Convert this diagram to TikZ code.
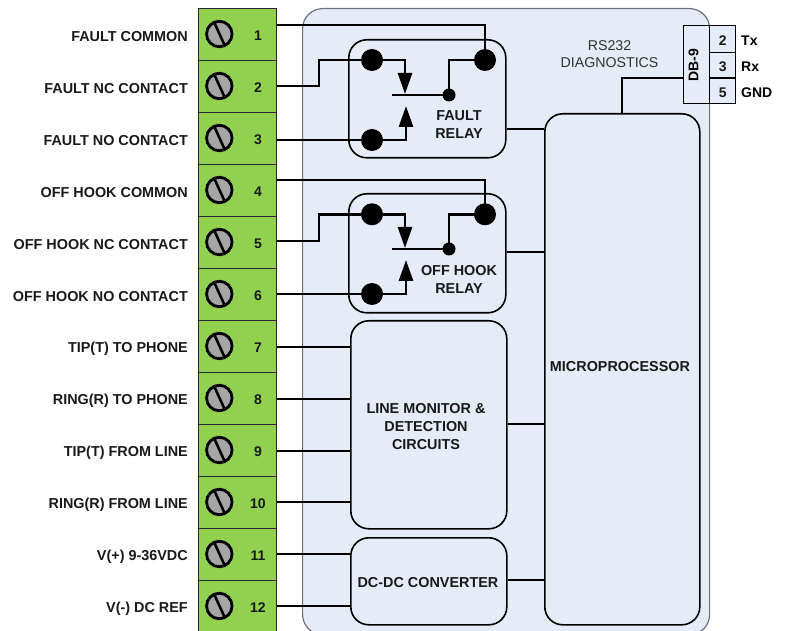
\documentclass[tikz,border=0pt]{standalone}
\usepackage{fontspec}
\setmainfont{Liberation Sans}
\usetikzlibrary{arrows.meta}
\definecolor{stripgreen}{RGB}{146,208,80}
\definecolor{panelblue}{RGB}{230,236,247}
\definecolor{screwgray}{RGB}{166,166,166}
\definecolor{panelline}{RGB}{110,115,125}
\definecolor{softtext}{RGB}{50,50,50}
\tikzset{
  x=1pt,y=-1pt,
  cell/.style={draw=black!85,line width=0.9pt,fill=stripgreen,minimum width=78pt,minimum height=52pt,inner sep=0pt,anchor=north west},
  screw/.style={circle,draw=black,line width=2.8pt,fill=screwgray,minimum size=25.5pt,inner sep=0pt},
  slot/.style={line width=2.6pt,black},
  pinnum/.style={font=\fontsize{14pt}{16pt}\selectfont\bfseries,text=black!90,inner sep=0pt},
  sidelabel/.style={font=\fontsize{14.4pt}{16pt}\selectfont\bfseries,anchor=east,inner sep=0pt,text=black!90},
  block/.style={draw=black,line width=1.6pt,rounded corners=18pt,inner sep=0pt,anchor=north west},
  blocktext/.style={font=\fontsize{14.4pt}{18pt}\selectfont\bfseries,align=center,inner sep=0pt,text=black!90},
  wire/.style={line width=2.8pt,black},
  thinwire/.style={line width=2pt,black},
  bigdot/.style={circle,fill=black,minimum size=22pt,inner sep=0pt},
  smalldot/.style={circle,fill=black,minimum size=13pt,inner sep=0pt},
  contact/.style={line width=2.8pt,black,-{Triangle[length=21pt,width=14pt]}},
  dbcell/.style={draw=black,line width=1.4pt,fill=panelblue,inner sep=0pt,anchor=north west},
}
\begin{document}
\begin{tikzpicture}
\useasboundingbox (0,0) rectangle (788,631);
\clip (0,0) rectangle (788,631);
% outer panel
\node[draw=panelline,line width=1.2pt,fill=panelblue,rounded corners=20pt,minimum width=407pt,minimum height=626pt,inner sep=0pt,anchor=north west] (panel) at (302,8) {};
% terminal strip
\foreach \n/\lab in {1/FAULT COMMON,2/FAULT NC CONTACT,3/FAULT NO CONTACT,4/OFF HOOK COMMON,5/OFF HOOK NC CONTACT,6/OFF HOOK NO CONTACT,7/TIP(T) TO PHONE,8/RING(R) TO PHONE,9/TIP(T) FROM LINE,10/RING(R) FROM LINE,11/V(+) 9-36VDC,12/V(-) DC REF}{
  \pgfmathsetmacro{\ytop}{8+52*(\n-1)}
  \pgfmathsetmacro{\ymid}{\ytop+26}
  \node[cell] (cell\n) at (197.7,\ytop) {};
  \node[screw] (screw\n) at (219.3,\ymid) {};
  \draw[slot] (214.5,\ymid-11) -- (224.5,\ymid+11);
  \node[pinnum] (num\n) at (258,\ymid+2) {\n};
  \node[sidelabel] (lab\n) at (188,\ymid+2.5) {\lab};
}
% blocks
\node[block,minimum width=157pt,minimum height=118pt] (fault) at (348,39) {};
\node[block,minimum width=157pt,minimum height=119pt] (hook) at (348,193) {};
\node[block,minimum width=156pt,minimum height=208pt] (monitor) at (350,320) {};
\node[block,minimum width=156pt,minimum height=87pt] (dcdc) at (350,537) {};
\node[block,minimum width=155pt,minimum height=511pt] (mpu) at (544,113) {};
% block texts
\node[blocktext] (faulttxt) at (459,125) {FAULT\\RELAY};
\node[blocktext] (hooktxt) at (459,279.5) {OFF HOOK\\RELAY};
\node[blocktext] (montxt) at (426,426.5) {LINE MONITOR \&\\DETECTION\\CIRCUITS};
\node[blocktext] (dctxt) at (428,582.5) {DC-DC CONVERTER};
\node[blocktext] (mputxt) at (620,366.5) {MICROPROCESSOR};
\node[font=\fontsize{14.2pt}{17pt}\selectfont,align=center,inner sep=0pt,text=softtext] (rs) at (609.5,54) {RS232\\DIAGNOSTICS};
% DB-9
\node[dbcell,minimum width=26pt,minimum height=78pt] (db) at (683,25) {};
\node[font=\fontsize{14pt}{16pt}\selectfont\bfseries,rotate=90,inner sep=0pt] (dbtxt) at (693.5,65) {DB-9};
\foreach \n/\yy/\hh/\sig in {2/25/27/Tx,3/52/25.5/Rx,5/77.5/25.5/GND}{
  \node[dbcell,minimum width=26pt,minimum height=\hh pt] (dbp\n) at (709,\yy) {};
  \node[pinnum] at ([yshift=-1.5pt]dbp\n.center) {\n};
  \node[font=\fontsize{14pt}{16pt}\selectfont\bfseries,anchor=west,inner sep=0pt] (sig\n) at (741,\yy+\hh/2+2) {\sig};
}
% relay contacts
\foreach \nm/\yt/\yb/\ym in {f/60/140/95,h/214.3/294/249}{
  \node[bigdot] (\nm a) at (372,\yt) {};
  \node[bigdot] (\nm b) at (372,\yb) {};
  \node[bigdot] (\nm c) at (485,\yt) {};
  \node[smalldot] (\nm d) at (449,\ym) {};
  \coordinate (\nm bar) at (392,\ym);
  \draw[wire] (\nm bar) -- (\nm d.center);
  \draw[wire] (\nm d.center) |- (\nm c.center);
  \draw[contact] (\nm a.center) -| (405,\ym-1);
  \draw[contact] (\nm b.center) -| (406,\ym+11);
}
% terminal connectors
\foreach \n/\yy in {1/25,2/86,3/140,4/180,5/241,6/294,7/347,8/399,9/451,10/502,11/554,12/606}{
  \coordinate (w\n) at (cell\n.east |- 0,\yy);
}
\draw[wire] (w1) -| (fc.center);
\draw[wire] (w2) -- (319,86) |- (fa.center);
\draw[wire] (w3) -- (fb.center);
\draw[thinwire] (w4) -| (hc.center);
\draw[wire] (w5) -- (319,241) |- (ha.center);
\draw[wire] (w6) -- (hb.center);
\foreach \n in {7,8,9,10}{\draw[wire] (w\n) -- (monitor.west |- w\n);}
\foreach \n in {11,12}{\draw[wire] (w\n) -- (dcdc.west |- w\n);}
% links to the microprocessor
\draw[thinwire] (fault.east |- 0,129) -- (mpu.west |- 0,129);
\draw[thinwire] (hook.east |- 0,252) -- (mpu.west |- 0,252);
\draw[thinwire] (monitor.east |- 0,424) -- (mpu.west |- 0,424);
\draw[wire] (dcdc.east |- 0,580) -- (mpu.west |- 0,580);
\draw[wire] (db.west |- 0,78) -| (622,113);
\end{tikzpicture}
\end{document}
